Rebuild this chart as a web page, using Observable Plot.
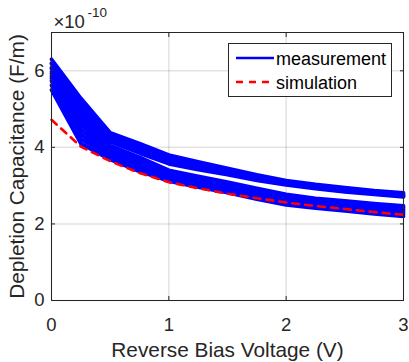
<!DOCTYPE html>
<html>
<head>
<meta charset="utf-8">
<script src="https://cdn.jsdelivr.net/npm/d3@7"></script>
<script src="https://cdn.jsdelivr.net/npm/@observablehq/plot@0.6"></script>
<style>
  body { margin: 0; background: #fff; }
  #wrap { position: relative; width: 409px; height: 362px; font-family: "Liberation Sans", Arial, Helvetica, sans-serif; }
  #legend { position: absolute; left: 228px; top: 43px; }
</style>
</head>
<body>
<div id="wrap"></div>
<script>
// Reverse bias voltage (V)
const voltage = [0, 0.25, 0.5, 0.75, 1, 1.25, 1.5, 1.75, 2, 2.25, 2.5, 2.75, 3];

// Measured depletion capacitance (×1e-10 F/m), upper family of devices
const measA1 = [6.30, 5.28, 4.38, 4.10, 3.80, 3.62, 3.45, 3.28, 3.13, 3.03, 2.95, 2.87, 2.81];
const measA2 = [6.18, 5.20, 4.34, 4.04, 3.74, 3.57, 3.41, 3.25, 3.10, 3.00, 2.92, 2.84, 2.78];
const measA3 = [6.05, 5.12, 4.29, 3.98, 3.69, 3.52, 3.37, 3.21, 3.07, 2.97, 2.89, 2.81, 2.75];
const measA4 = [5.92, 5.03, 4.22, 3.91, 3.63, 3.47, 3.33, 3.18, 3.04, 2.94, 2.86, 2.79, 2.73];
const measA5 = [5.80, 4.95, 4.15, 3.85, 3.57, 3.42, 3.29, 3.14, 3.02, 2.92, 2.84, 2.77, 2.71];

// Measured depletion capacitance (×1e-10 F/m), lower family of devices
const measB1 = [6.20, 4.82, 4.05, 3.74, 3.40, 3.24, 3.09, 2.93, 2.77, 2.67, 2.60, 2.53, 2.47];
const measB2 = [6.08, 4.70, 3.99, 3.68, 3.35, 3.19, 3.04, 2.88, 2.73, 2.63, 2.56, 2.49, 2.43];
const measB3 = [5.97, 4.58, 3.93, 3.62, 3.31, 3.15, 3.00, 2.84, 2.69, 2.59, 2.52, 2.45, 2.39];
const measB4 = [5.85, 4.46, 3.87, 3.56, 3.26, 3.11, 2.96, 2.80, 2.65, 2.56, 2.48, 2.41, 2.35];
const measB5 = [5.73, 4.34, 3.80, 3.49, 3.21, 3.06, 2.91, 2.75, 2.60, 2.51, 2.43, 2.36, 2.30];
const measB6 = [5.62, 4.22, 3.74, 3.43, 3.17, 3.01, 2.87, 2.70, 2.55, 2.46, 2.39, 2.31, 2.25];
const measB7 = [5.50, 4.10, 3.68, 3.37, 3.12, 2.96, 2.82, 2.65, 2.50, 2.41, 2.34, 2.26, 2.20];

// Simulated depletion capacitance (×1e-10 F/m)
const simulation = [4.72, 4.02, 3.64, 3.33, 3.09, 2.93, 2.79, 2.67, 2.56, 2.47, 2.39, 2.31, 2.24];

// Axis ticks and labels
const xTicks = [0, 1, 2, 3];
const yTicks = [0, 2, 4, 6];
const xLabel = "Reverse Bias Voltage (V)";
const yLabel = "Depletion Capacitance (F/m)";
const legendLabels = ["measurement", "simulation"];

const curves = [
  ["A1", measA1], ["A2", measA2], ["A3", measA3], ["A4", measA4], ["A5", measA5],
  ["B1", measB1], ["B2", measB2], ["B3", measB3], ["B4", measB4], ["B5", measB5],
  ["B6", measB6], ["B7", measB7]
];
const measRows = curves.flatMap(([id, vals]) => voltage.map((v, i) => ({v, c: vals[i], id})));
const simRows = voltage.map((v, i) => ({v, c: simulation[i]}));

const ink = "#262626";
const font = "Liberation Sans, Arial, Helvetica, sans-serif";
const blank = () => "";

const chart = Plot.plot({
  width: 409,
  height: 362,
  marginLeft: 51,
  marginRight: 6,
  marginTop: 32,
  marginBottom: 62,
  style: {fontFamily: font, color: ink, background: "#fff", overflow: "visible"},
  x: {domain: [0, 3], ticks: xTicks},
  y: {domain: [0, 7], ticks: yTicks},
  marks: [
    Plot.gridX(xTicks, {stroke: ink, strokeOpacity: 0.13, strokeWidth: 1.5}),
    Plot.gridY(yTicks, {stroke: ink, strokeOpacity: 0.13, strokeWidth: 1.5}),
    Plot.line(measRows, {x: "v", y: "c", z: "id", stroke: "#0000ff", strokeWidth: 3.8, strokeLinejoin: "round"}),
    Plot.line(simRows, {x: "v", y: "c", stroke: "#ff0000", strokeWidth: 2.6, strokeDasharray: "7,6"}),
    Plot.frame({stroke: ink, strokeWidth: 1}),
    // inward tick marks on all four sides
    Plot.axisX(xTicks, {anchor: "bottom", tickSize: -4, tickFormat: blank, label: null, stroke: ink}),
    Plot.axisX(xTicks, {anchor: "top", tickSize: -4, tickFormat: blank, label: null, stroke: ink}),
    Plot.axisY(yTicks, {anchor: "left", tickSize: -4, tickFormat: blank, label: null, stroke: ink}),
    Plot.axisY(yTicks, {anchor: "right", tickSize: -4, tickFormat: blank, label: null, stroke: ink}),
    // tick labels
    Plot.axisX(xTicks, {anchor: "bottom", tickSize: 0, tickPadding: 17, fontSize: 18.5, fill: ink, label: null, tickFormat: d3.format("d")}),
    Plot.axisY(yTicks, {anchor: "left", tickSize: 0, tickPadding: 7, fontSize: 18.5, fill: ink, label: null, tickFormat: d3.format("d")}),
    Plot.text([xLabel], {frameAnchor: "bottom", dy: 56, textAnchor: "middle", lineAnchor: "bottom", fontSize: 20.8, fill: ink}),
    Plot.text([yLabel], {frameAnchor: "left", dx: -34, rotate: -90, textAnchor: "middle", lineAnchor: "middle", fontSize: 20.8, fill: ink}),
    Plot.text(["×10"], {frameAnchor: "top-left", textAnchor: "start", lineAnchor: "bottom", dx: 2, dy: -5, fontSize: 18.5, fill: ink}),
    Plot.text(["-10"], {frameAnchor: "top-left", textAnchor: "start", lineAnchor: "bottom", dx: 36, dy: -16, fontSize: 13.5, fill: ink})
  ]
});

const wrap = document.getElementById("wrap");
wrap.appendChild(chart);

// Legend
const ns = "http://www.w3.org/2000/svg";
const leg = document.createElementNS(ns, "svg");
leg.setAttribute("id", "legend");
leg.setAttribute("width", 165);
leg.setAttribute("height", 55);
leg.innerHTML = `
  <rect x="0.5" y="0.5" width="163" height="53" fill="#fff" stroke="${ink}" stroke-width="1"/>
  <line x1="8" x2="46" y1="15" y2="15" stroke="#0000ff" stroke-width="2.6"/>
  <line x1="8" x2="46" y1="39" y2="39" stroke="#ff0000" stroke-width="2.6" stroke-dasharray="7,6"/>
  <text x="48" y="21.5" font-size="18" fill="#000" font-family="${font}">${legendLabels[0]}</text>
  <text x="48" y="45.5" font-size="18" fill="#000" font-family="${font}">${legendLabels[1]}</text>
`;
wrap.appendChild(leg);
</script>
</body>
</html>
